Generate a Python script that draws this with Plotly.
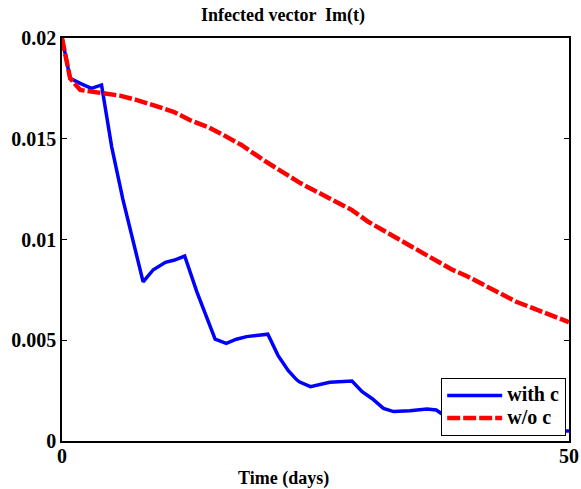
import plotly.graph_objects as go

# ---- data ----
t_with = [0, 0.8, 1.8, 2.9, 3.9, 4.9, 6.0, 7.0, 8.0, 9.0, 10.2, 11.1, 12.1, 13.3, 14.2,
          15.1, 16.2, 17.2, 18.2, 20.3, 21.3, 22.3, 23.1, 23.4, 24.5, 26.4, 28.6, 29.6,
          30.6, 31.7, 32.7, 34.3, 36.0, 36.9, 37.9, 39.0, 40.5, 42.5, 44.8, 45.8, 47.0,
          48.5, 49.5, 50]
y_with = [0.02, 0.018, 0.01775, 0.0175, 0.01767, 0.0146, 0.0120, 0.0099, 0.0079, 0.0085,
          0.00887, 0.00898, 0.00918, 0.0074, 0.0062, 0.00506, 0.00485, 0.00505, 0.00518,
          0.0053, 0.00425, 0.0035, 0.00306, 0.00294, 0.0027, 0.00291, 0.00298, 0.00245,
          0.0021, 0.00162, 0.00146, 0.0015, 0.00159, 0.00154, 0.0012, 0.0010, 0.00078,
          0.0008, 0.00083, 0.0007, 0.0006, 0.0005, 0.0005, 0.0005]

t_without = [0, 0.8, 1.8, 3.9, 5.7, 7.4, 9.3, 11.0, 12.6, 14.3, 15.9, 17.7, 20.0, 23.5,
             26.4, 28.6, 30.2, 31.9, 33.5, 35.1, 36.8, 38.4, 39.9, 41.5, 43.2, 44.8, 46.5,
             48.1, 50]
y_without = [0.02, 0.018, 0.01742, 0.01725, 0.01714, 0.01692, 0.01659, 0.01634, 0.01593,
             0.0156, 0.01519, 0.01469, 0.0139, 0.0128, 0.01204, 0.01146, 0.01088, 0.01039,
             0.00989, 0.00948, 0.00898, 0.00852, 0.00819, 0.00779, 0.00733, 0.00691,
             0.00658, 0.00625, 0.0059]

series_names = ["with c", "w/o c"]
x_ticks = [0, 50]
x_tick_labels = ["0", "50"]
y_ticks = [0, 0.005, 0.01, 0.015, 0.02]
y_tick_labels = ["0", "0.005", "0.01", "0.015", "0.02"]

FONT = "Liberation Serif"


def legend_label(s):
    return "<span style='font-size:20px'>" + s + "</span>"


fig = go.Figure()
fig.add_trace(go.Scatter(x=t_with, y=y_with, mode="lines", name=legend_label(series_names[0]),
                         line=dict(color="#0000ff", width=3.5)))
fig.add_trace(go.Scatter(x=t_without, y=y_without, mode="lines",
                         name=legend_label(series_names[1]),
                         line=dict(color="#ff0000", width=4.5, dash="13px,3px")))

axis_common = dict(showline=True, linecolor="black", linewidth=1.5, mirror="ticks",
                   ticks="inside", ticklen=5, tickcolor="black", showgrid=False,
                   zeroline=False, automargin=False,
                   tickfont=dict(family=FONT, size=20, color="black", weight="bold"))

fig.update_layout(
    width=581, height=489,
    margin=dict(l=62, r=12, t=38, b=48, autoexpand=False),
    plot_bgcolor="white", paper_bgcolor="white",
    title=dict(text="<b>Infected vector  Im(t)</b>", xref="paper", x=0.436, xanchor="center",
               yref="container", y=1 - 15 / 489, yanchor="middle", automargin=False,
               font=dict(family=FONT, size=18, color="black")),
    xaxis=dict(range=[0, 50], tickvals=x_ticks, ticktext=x_tick_labels,
               ticklabelstandoff=-4, **axis_common),
    yaxis=dict(range=[0, 0.02], tickvals=y_ticks, ticktext=y_tick_labels, **axis_common),
    legend=dict(x=0.7475, y=0.156, xanchor="left", yanchor="top",
                bordercolor="black", borderwidth=1.2, bgcolor="white",
                font=dict(family=FONT, size=15, color="black", weight="bold"),
                itemwidth=55, tracegroupgap=0),
    showlegend=True,
    annotations=[dict(text="<b>Time (days)</b>", xref="paper", yref="paper",
                      x=0.436, y=-0.094, xanchor="center", yanchor="middle",
                      showarrow=False, font=dict(family=FONT, size=18, color="black"))],
)

fig.write_html("out.html", config={"displayModeBar": False},
               post_script="document.body.style.margin='0';document.body.style.padding='0';"
                           "document.body.style.overflow='hidden';")
